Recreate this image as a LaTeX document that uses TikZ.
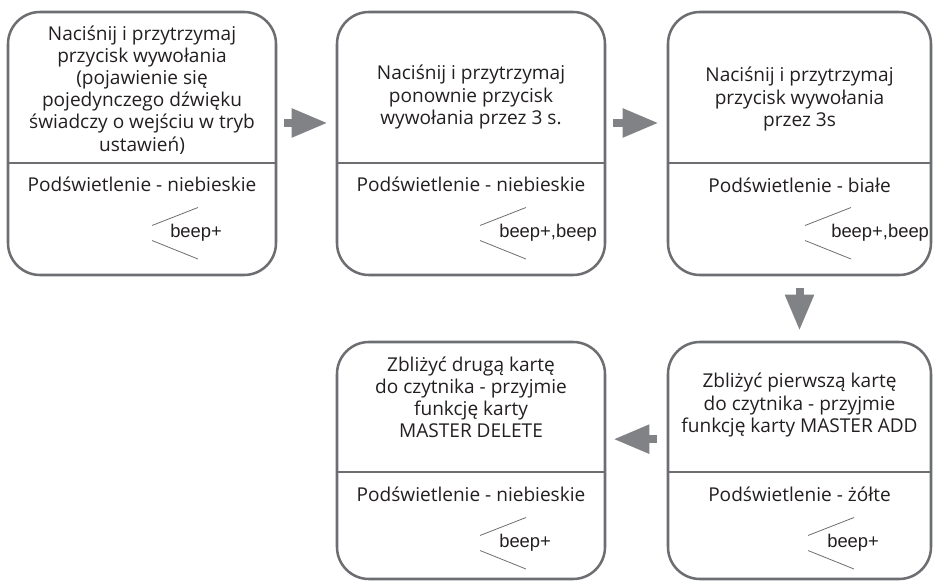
\documentclass[tikz,border=0pt]{standalone}
\usepackage{fontspec}
\setmainfont{Open Sans}
\newfontfamily\beepfont{Liberation Sans}
\usetikzlibrary{arrows.meta,positioning,calc}
\definecolor{framegray}{HTML}{6D6E71}
\definecolor{arrowgray}{HTML}{808285}
\definecolor{inkdark}{HTML}{231F20}

\begin{document}
\begin{tikzpicture}[x=0.75pt, y=-0.75pt,
  card/.style={rectangle, draw=framegray, line width=1.9pt, rounded corners=24pt, minimum width=201pt, minimum height=197.25pt, inner sep=0pt},
  cardlow/.style={card, minimum height=177.75pt},
  divider/.style={draw=framegray, line width=0.9pt},
  task/.style={align=center, text=inkdark, inner sep=0pt, font=\fontsize{14.3}{16.6}\selectfont},
  light/.style={task},
  tick/.style={draw=framegray, line width=0.6pt},
  beeptxt/.style={anchor=west, inner sep=0pt, text=inkdark, font=\beepfont\fontsize{13.8}{15}\selectfont},
  flow/.style={line width=6pt, draw=arrowgray, -{Triangle[length=27pt, width=20.25pt]}}
]
  \useasboundingbox (0,0) rectangle (933,581);

  % top row
  \node[card] (b1) at (142,143.5) {};
  \node[card] (b2) at (471,143.5) {};
  \node[card, minimum width=197.25pt] (b3) at (799.5,143.5) {};
  % bottom row
  \node[cardlow, minimum width=197.25pt] (b4) at (799.5,460.5) {};
  \node[cardlow] (b5) at (471,460.5) {};

  \draw[divider] (b1.west |- 0,163) -- (b1.east |- 0,163);
  \draw[divider] (b2.west |- 0,163) -- (b2.east |- 0,163);
  \draw[divider] (b3.west |- 0,163) -- (b3.east |- 0,163);
  \draw[divider] (b4.west |- 0,472) -- (b4.east |- 0,472);
  \draw[divider] (b5.west |- 0,472) -- (b5.east |- 0,472);

  \node[task] (t1) at (142,90) {Naciśnij i przytrzymaj\\przycisk wywołania\\(pojawienie się\\pojedynczego dźwięku\\świadczy o wejściu w tryb\\ustawień)};
  \node[task] (t2) at (471,97) {Naciśnij i przytrzymaj\\ponownie przycisk\\wywołania przez 3 s.};
  \node[task] (t3) at (799.5,99) {Naciśnij i przytrzymaj\\przycisk wywołania\\przez 3s};
  \node[task] (t4) at (799.5,405) {Zbliżyć pierwszą kartę\\do czytnika - przyjmie\\funkcję karty MASTER ADD};
  \node[task] (t5) at (471,397) {Zbliżyć drugą kartę\\do czytnika - przyjmie\\funkcję karty\\MASTER DELETE};

  \node[light] (l1) at (142,184) {Podświetlenie - niebieskie};
  \node[light] (l2) at (471,184) {Podświetlenie - niebieskie};
  \node[light] (l3) at (799.5,185) {Podświetlenie - białe};
  \node[light] (l4) at (799.5,494) {Podświetlenie - żółte};
  \node[light] (l5) at (471,494) {Podświetlenie - niebieskie};

  % beep marks
  \node[beeptxt] (p1) at (170,233) {beep+};
  \draw[tick] (152,225.5) -- (198,207.5);
  \draw[tick] (152,240.5) -- (198,259);
  \node[beeptxt] (p2) at (499,233) {beep+,beep};
  \draw[tick] (480,225.5) -- (526,207.5);
  \draw[tick] (480,240.5) -- (526,259);
  \node[beeptxt] (p3) at (831,233) {beep+,beep};
  \draw[tick] (805,225.5) -- (851,207.5);
  \draw[tick] (805,240.5) -- (851,259);
  \node[beeptxt] (p4) at (827,543) {beep+};
  \draw[tick] (808,535.5) -- (854,517.5);
  \draw[tick] (808,550.5) -- (854,569);
  \node[beeptxt] (p5) at (499,543) {beep+};
  \draw[tick] (480,535.5) -- (526,517.5);
  \draw[tick] (480,550.5) -- (526,569);

  \draw[flow, shorten <=5.25pt, shorten >=6pt] ([yshift=15.4pt]b1.east) -- ([yshift=15.4pt]b2.west);
  \draw[flow, shorten <=5.25pt, shorten >=6pt] ([yshift=15.4pt]b2.east) -- ([yshift=15.4pt]b3.west);
  \draw[flow, shorten <=9pt, shorten >=7.5pt] (b3.south) -- (b4.north);
  \draw[flow, shorten <=7.5pt, shorten >=5.25pt] ([yshift=16pt]b4.west) -- ([yshift=16pt]b5.east);
\end{tikzpicture}
\end{document}
